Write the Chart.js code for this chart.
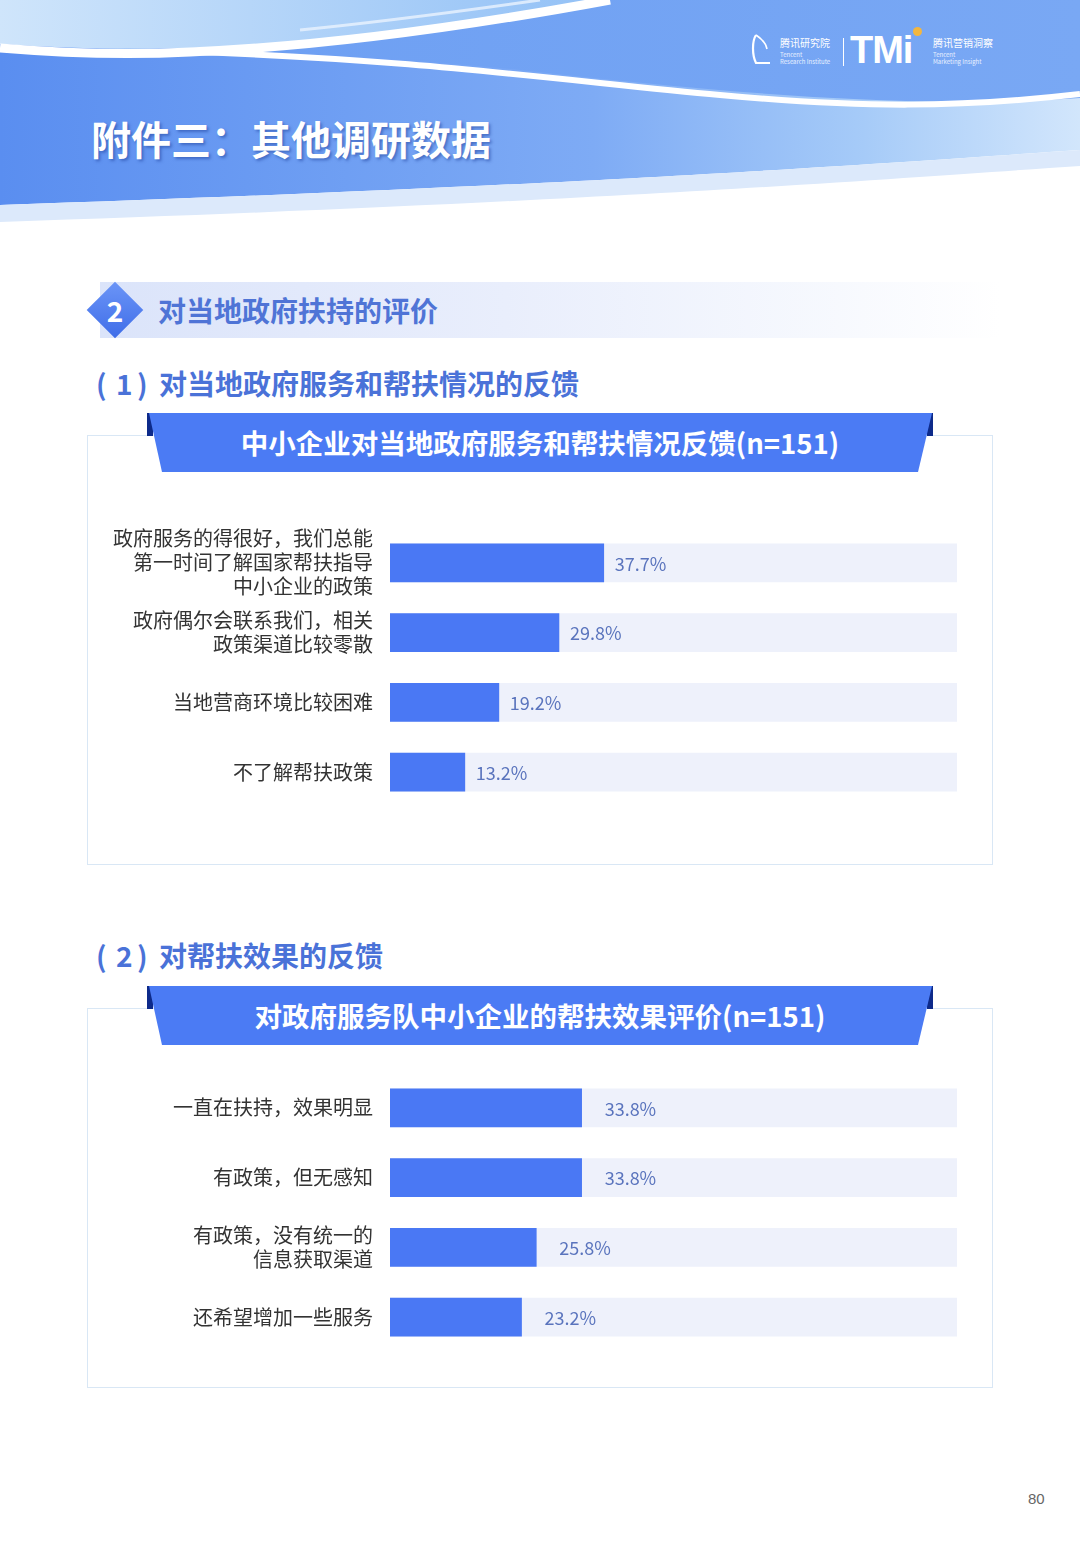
<!DOCTYPE html>
<html>
<head>
<meta charset="utf-8">
<script src="https://cdn.jsdelivr.net/npm/chart.js@4.4.1/dist/chart.umd.min.js"></script>
<style>
  html, body { margin: 0; padding: 0; background: #fff; }
  body { width: 1080px; height: 1560px; position: relative; overflow: hidden;
         font-family: "Noto Sans CJK SC", "Noto Sans", sans-serif; }
  .abs { position: absolute; }
  .title { left: 91px; top: 110px; font-size: 40px; font-weight: 700; color: #fff;
           text-shadow: 2px 2px 3px rgba(35, 70, 160, 0.55); line-height: 56px; }
  .sec-band { left: 100px; top: 282px; width: 900px; height: 56px;
              background: linear-gradient(90deg, #dbe4fa 0%, #e9eefc 45%, rgba(240,244,253,0.6) 80%, rgba(255,255,255,0) 100%); }
  .diamond { left: 95px; top: 290px; width: 40px; height: 40px; transform: rotate(45deg);
             background: linear-gradient(135deg, #6b95f7, #3f6de8); }
  .diamond-num { left: 95px; top: 290px; width: 40px; height: 40px; line-height: 40px; text-align: center;
                 color: #fff; font-size: 28px; font-weight: 700; }
  .sec-text { left: 158px; top: 290px; font-size: 28px; font-weight: 700; color: #4f74d6; line-height: 40px; }
  .sub { font-size: 28px; font-weight: 700; color: #4a72d8; line-height: 36px; }
  .panel { left: 87px; width: 906px; border: 1px solid #d9e7f5; box-sizing: border-box; background: #fff; }
  .banner { left: 0; width: 1080px; height: 60px; }
  .banner-text { left: 0; width: 1080px; text-align: center; color: #fff; font-size: 27.5px; font-weight: 700; line-height: 58px; }
  .chartbox { left: 100px; }
  .page { left: 1028px; top: 1490px; font-family: "Liberation Sans", Arial, sans-serif; font-size: 15px; color: #666; }
  .logo-t { color: #fff; font-size: 10px; line-height: 11px; white-space: nowrap; }
  .logo-s { color: #e8f1ff; font-size: 6px; line-height: 7px; white-space: nowrap; }
</style>
</head>
<body>

<!-- header waves -->
<svg class="abs" style="left:0;top:0" width="1080" height="235" viewBox="0 0 1080 235">
  <defs>
    <linearGradient id="bandGrad" x1="0" y1="0" x2="1" y2="0">
      <stop offset="0" stop-color="#5a8ef0"/>
      <stop offset="0.55" stop-color="#7eabf5"/>
      <stop offset="0.8" stop-color="#a6cbf8"/>
      <stop offset="1" stop-color="#d2e6fc"/>
    </linearGradient>
    <linearGradient id="topGrad" x1="0" y1="0" x2="1" y2="0">
      <stop offset="0" stop-color="#cfe5fb"/>
      <stop offset="1" stop-color="#93c1f6"/>
    </linearGradient>
    <linearGradient id="rightGrad" x1="0" y1="0" x2="1" y2="0">
      <stop offset="0" stop-color="#6d9ff3"/>
      <stop offset="1" stop-color="#79a8f4"/>
    </linearGradient>
  </defs>
  <path d="M0,0 H1080 V150 C900,162 600,185 0,205 Z" fill="url(#bandGrad)"/>
  <path d="M0,205 C600,185 900,162 1080,150 V166 C900,178 600,202 0,222 Z" fill="#dce9fb"/>
  <path d="M250,0 H1080 V98 C900,110 700,90 520,70 C400,58 300,52 190,50 C300,40 420,22 560,0 Z" fill="url(#rightGrad)"/>
  <path d="M0,0 H600 C470,25 330,44 190,48 C120,50 60,48 0,44 Z" fill="url(#topGrad)"/>
  <path d="M0,48 C60,53 130,55 190,52 C330,46 480,24 610,0" stroke="#fff" stroke-width="9" fill="none"/>
  <path d="M190,52 C400,58 560,80 720,95 C860,108 960,108 1080,94" stroke="#fff" stroke-width="6" fill="none"/>
  <path d="M300,30 C400,20 470,10 540,0" stroke="#eaf3fe" stroke-width="3" fill="none" opacity="0.8"/>
</svg>

<!-- logos -->
<svg class="abs" style="left:750px;top:33px" width="24" height="34" viewBox="0 0 24 34">
  <path d="M6,2 C2,8 2,22 6,30 L20,30" stroke="#fff" stroke-width="2.2" fill="none"/>
  <path d="M6,2 C12,6 16,10 17,16" stroke="#fff" stroke-width="1.6" fill="none"/>
</svg>
<div class="abs logo-t" style="left:780px;top:37px">腾讯研究院</div>
<div class="abs logo-s" style="left:780px;top:51px">Tencent<br>Research Institute</div>
<div class="abs" style="left:843px;top:38px;width:1px;height:28px;background:#fff"></div>
<div class="abs" style="left:850px;top:28px;color:#fff;font-family:'Liberation Sans',Arial,sans-serif;font-weight:700;font-size:38px;line-height:44px;letter-spacing:-1px">TMi</div>
<div class="abs" style="left:913px;top:27px;width:9px;height:9px;border-radius:50%;background:#f2b640"></div>
<div class="abs logo-t" style="left:933px;top:37px">腾讯营销洞察</div>
<div class="abs logo-s" style="left:933px;top:51px">Tencent<br>Marketing Insight</div>

<div class="abs title">附件三：其他调研数据</div>

<!-- section header -->
<div class="abs sec-band"></div>
<div class="abs diamond"></div>
<div class="abs diamond-num">2</div>
<div class="abs sec-text">对当地政府扶持的评价</div>

<div class="abs sub" style="top:365px;left:96px">(</div>
<div class="abs sub" style="top:365px;left:116px">1</div>
<div class="abs sub" style="top:365px;left:137px">)</div>
<div class="abs sub" style="top:365px;left:159px">对当地政府服务和帮扶情况的反馈</div>
<div class="abs panel" style="top:435px;height:430px"></div>
<svg class="abs banner" style="top:412px" viewBox="0 0 1080 60">
  <path d="M147,1 H153 V24 H147 Z" fill="#0d2a8a"/>
  <path d="M927,1 H933 V24 H927 Z" fill="#0d2a8a"/>
  <path d="M149,1 H932 L918,60 H162 Z" fill="#4b7bf4"/>
</svg>
<div class="abs banner-text" style="top:413px">中小企业对当地政府服务和帮扶情况反馈(n=151)</div>
<div class="abs chartbox" style="top:472px"><canvas id="feedbackChart" width="857" height="391"></canvas></div>

<div class="abs sub" style="top:937px;left:96px">(</div>
<div class="abs sub" style="top:937px;left:116px">2</div>
<div class="abs sub" style="top:937px;left:137px">)</div>
<div class="abs sub" style="top:937px;left:159px">对帮扶效果的反馈</div>
<div class="abs panel" style="top:1008px;height:380px"></div>
<svg class="abs banner" style="top:985px" viewBox="0 0 1080 60">
  <path d="M147,1 H153 V24 H147 Z" fill="#0d2a8a"/>
  <path d="M927,1 H933 V24 H927 Z" fill="#0d2a8a"/>
  <path d="M149,1 H932 L918,60 H162 Z" fill="#4b7bf4"/>
</svg>
<div class="abs banner-text" style="top:986px">对政府服务队中小企业的帮扶效果评价(n=151)</div>
<div class="abs chartbox" style="top:1017px"><canvas id="effectChart" width="857" height="391"></canvas></div>

<div class="abs page">80</div>

<script>
// chart 1: feedback on local government service and support
const feedbackLabels = [
  ['政府服务的得很好，我们总能', '第一时间了解国家帮扶指导', '中小企业的政策'],
  ['政府偶尔会联系我们，相关', '政策渠道比较零散'],
  '当地营商环境比较困难',
  '不了解帮扶政策'
];
const feedbackValues = [37.7, 29.8, 19.2, 13.2];

// chart 2: feedback on support effect
const effectLabels = [
  '一直在扶持，效果明显',
  '有政策，但无感知',
  ['有政策，没有统一的', '信息获取渠道'],
  '还希望增加一些服务'
];
const effectValues = [33.8, 33.8, 25.8, 23.2];

// full-length track behind every bar
const trackMax = [100, 100, 100, 100];

// draws "xx.x%" right after each bar end
const valueLabels = {
  id: 'valueLabels',
  afterDatasetsDraw(chart, args, opts) {
    const ctx = chart.ctx;
    const meta = chart.getDatasetMeta(0);
    const vals = chart.data.datasets[0].data;
    ctx.save();
    ctx.font = '18px "Noto Sans CJK SC", "Noto Sans", sans-serif';
    ctx.fillStyle = '#5a74bd';
    ctx.textBaseline = 'middle';
    ctx.textAlign = 'left';
    meta.data.forEach(function(bar, i) {
      ctx.fillText(vals[i].toFixed(1) + '%', bar.x + opts.offset, bar.y + 1);
    });
    ctx.restore();
  }
};

function makeChart(id, labels, values, labelOffset) {
  var ctx = document.getElementById(id).getContext('2d');
  return new Chart(ctx, {
    type: 'bar',
    data: {
      labels: labels,
      datasets: [
        { data: values, backgroundColor: '#4a78f4', barThickness: 38, grouped: false, order: 0 },
        { data: trackMax, backgroundColor: '#eef1fb', barThickness: 38, grouped: false, order: 1 }
      ]
    },
    options: {
      indexAxis: 'y',
      responsive: false,
      animation: false,
      layout: { padding: { top: 56, bottom: 56, left: 0, right: 0 } },
      scales: {
        x: { display: false, min: 0, max: 100 },
        y: {
          grid: { display: false, drawTicks: false },
          border: { display: false },
          ticks: {
            autoSkip: false,
            color: '#333',
            padding: 17,
            font: { family: '"Noto Sans CJK SC", "Noto Sans", sans-serif', size: 20, lineHeight: '24px' }
          },
          afterFit: function(scale) { scale.width = 290; }
        }
      },
      plugins: {
        legend: { display: false },
        tooltip: { enabled: false },
        valueLabels: { offset: labelOffset }
      }
    },
    plugins: [valueLabels]
  });
}

makeChart('feedbackChart', feedbackLabels, feedbackValues, 11);
makeChart('effectChart', effectLabels, effectValues, 23);
</script>
</body>
</html>
